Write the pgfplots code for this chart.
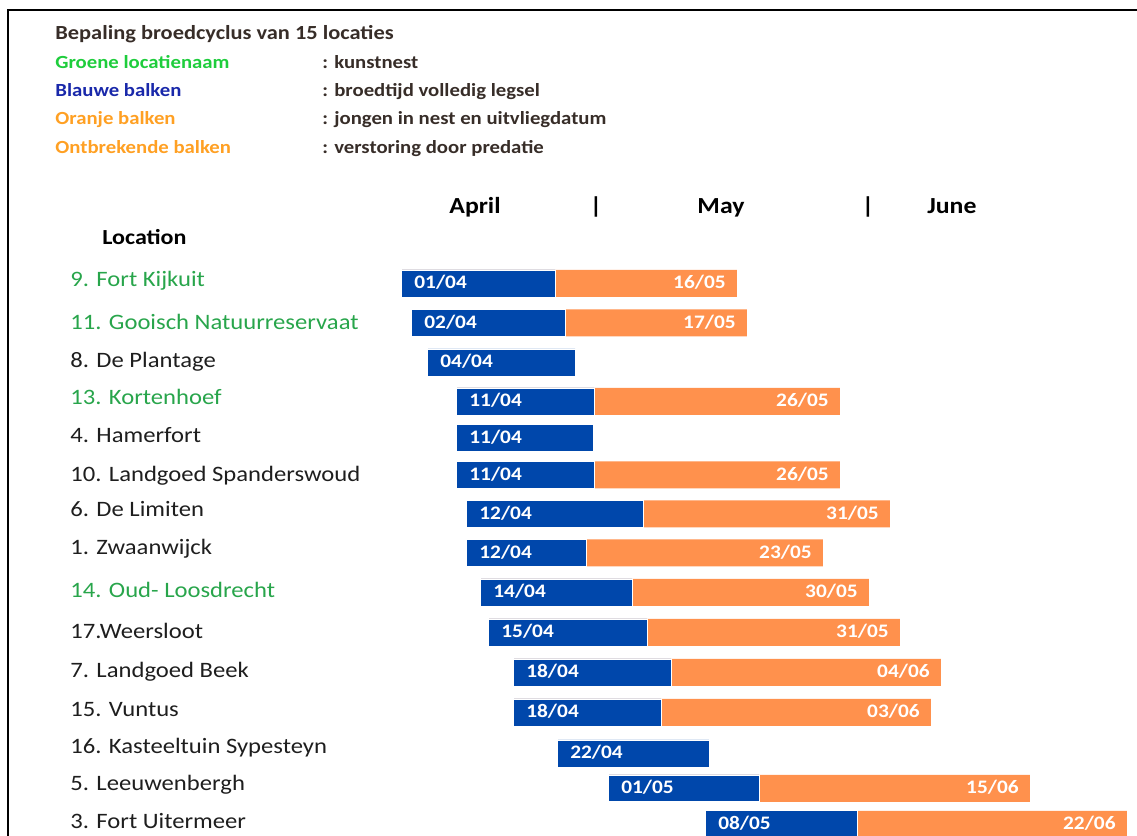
\documentclass[border=0pt]{standalone}
\usepackage{pgfplots}
\pgfplotsset{compat=1.18}
\usepackage{pgfplotstable}
\usepackage{fontspec}
\setmainfont{Carlito}[FakeStretch=1.12]
\definecolor{barblue}{RGB}{0,71,171}
\definecolor{barorange}{RGB}{255,145,77}
\definecolor{locgreen}{RGB}{40,165,75}
\definecolor{leggreen}{RGB}{30,205,60}
\definecolor{legblue}{RGB}{25,40,170}
\definecolor{legorange}{RGB}{255,160,35}
\definecolor{darktext}{RGB}{55,45,40}
\definecolor{labtext}{RGB}{30,30,30}

% positions on the time scale of the picture (0 = left edge of the bar area)
\pgfplotstableread{
y     start bend oend sl    el
283.5 11    165  347  01/04 16/05
323   21    175  357  02/04 17/05
362.5 37    185  nan  04/04 x
401.5 66    204  450  11/04 26/05
438   66    203  nan  11/04 x
475   66    204  450  11/04 26/05
514   76    253  500  12/04 31/05
553   76    196  433  12/04 23/05
592.5 90    242  479  14/04 30/05
632.5 98    257  510  15/04 31/05
672.5 123   281  551  18/04 04/06
712.5 123   271  541  18/04 03/06
753.5 167   319  nan  22/04 x
788.5 218   369  640  01/05 15/06
824.5 315   467  737  08/05 22/06
}\bars

\begin{document}
\begin{tikzpicture}
\begin{axis}[
  scale only axis, width=852.75pt, height=627pt,
  xmin=-390, xmax=747, ymin=0, ymax=836, y dir=reverse,
  axis line style={draw=none}, xtick=\empty, major tick length=0pt,
  ytick={287,329.3,367.3,405,442.3,481.7,516.7,555,597.3,638.3,677.3,716.7,754,790.7,828.3},
  yticklabels={
    \textcolor{locgreen}{9. Fort Kijkuit},
    \textcolor{locgreen}{11. Gooisch Natuurreservaat},
    8. De Plantage,
    \textcolor{locgreen}{13. Kortenhoef},
    4. Hamerfort,
    10. Landgoed Spanderswoud,
    6. De Limiten,
    1. Zwaanwijck,
    \textcolor{locgreen}{14. Oud- Loosdrecht},
    17.Weersloot,
    7. Landgoed Beek,
    15. Vuntus,
    16. Kasteeltuin Sypesteyn,
    5. Leeuwenbergh,
    3. Fort Uitermeer},
  yticklabel style={anchor=base west, xshift=52.5pt, inner sep=0pt, text=labtext,
    font=\fontsize{16.5pt}{18pt}\selectfont},
]
% orange: young in nest until fledging date
\addplot[xbar, bar width=27, fill=barorange, draw=none,
  nodes near coords, point meta=explicit symbolic,
  every node near coord/.append style={anchor=base east, xshift=-8.25pt, yshift=-3.9pt,
    inner sep=0pt, text=white, font=\bfseries\fontsize{14.3pt}{15pt}\selectfont}]
  table[x=oend, y=y, meta=el]{\bars};
% blue: incubation of full clutch
\addplot[xbar, bar width=27, fill=barblue, draw=white, line width=0.5pt]
  table[x=bend, y=y]{\bars};
% white: before the start date
\addplot[xbar, bar width=27, fill=white, draw=white, line width=1pt,
  nodes near coords, point meta=explicit symbolic,
  every node near coord/.append style={anchor=base west, xshift=9.5pt, yshift=-3.9pt,
    inner sep=0pt, text=white, font=\bfseries\fontsize{14.3pt}{15pt}\selectfont}]
  table[x=start, y=y, meta=sl]{\bars};

\draw[line width=1.5pt, black] (axis cs:-382,836) -- (axis cs:-382,10) -- (axis cs:747,10);

\node[anchor=base west, inner sep=0pt, text=darktext, font=\bfseries\fontsize{15pt}{16pt}\selectfont] at (axis cs:-335,40) {Bepaling broedcyclus van 15 locaties};
\node[anchor=base west, inner sep=0pt, text=leggreen, font=\bfseries\fontsize{13.9pt}{16pt}\selectfont] at (axis cs:-335,69) {Groene locatienaam};
\node[anchor=base west, inner sep=0pt, text=legblue, font=\bfseries\fontsize{13.9pt}{16pt}\selectfont] at (axis cs:-335,97) {Blauwe balken};
\node[anchor=base west, inner sep=0pt, text=legorange, font=\bfseries\fontsize{13.9pt}{16pt}\selectfont] at (axis cs:-335,125) {Oranje balken};
\node[anchor=base west, inner sep=0pt, text=legorange, font=\bfseries\fontsize{13.9pt}{16pt}\selectfont] at (axis cs:-335,154) {Ontbrekende balken};
\node[anchor=base west, inner sep=0pt, text=darktext, font=\bfseries\fontsize{13.9pt}{16pt}\selectfont] at (axis cs:-68,69) {: kunstnest};
\node[anchor=base west, inner sep=0pt, text=darktext, font=\bfseries\fontsize{13.9pt}{16pt}\selectfont] at (axis cs:-68,97) {: broedtijd volledig legsel};
\node[anchor=base west, inner sep=0pt, text=darktext, font=\bfseries\fontsize{13.9pt}{16pt}\selectfont] at (axis cs:-68,125) {: jongen in nest en uitvliegdatum};
\node[anchor=base west, inner sep=0pt, text=darktext, font=\bfseries\fontsize{13.9pt}{16pt}\selectfont] at (axis cs:-68,154) {: verstoring door predatie};

\node[anchor=base, inner sep=0pt, font=\bfseries\fontsize{17.25pt}{19pt}\selectfont] at (axis cs:85,214) {April};
\node[anchor=base, inner sep=0pt, font=\bfseries\fontsize{17.25pt}{19pt}\selectfont] at (axis cs:206,214) {|};
\node[anchor=base, inner sep=0pt, font=\bfseries\fontsize{17.25pt}{19pt}\selectfont] at (axis cs:331,214) {May};
\node[anchor=base, inner sep=0pt, font=\bfseries\fontsize{17.25pt}{19pt}\selectfont] at (axis cs:478,214) {|};
\node[anchor=base, inner sep=0pt, font=\bfseries\fontsize{17.25pt}{19pt}\selectfont] at (axis cs:562,214) {June};
\node[anchor=base west, inner sep=0pt, font=\bfseries\fontsize{16.1pt}{18pt}\selectfont] at (axis cs:-288,245) {Location};
\end{axis}
\end{tikzpicture}
\end{document}
